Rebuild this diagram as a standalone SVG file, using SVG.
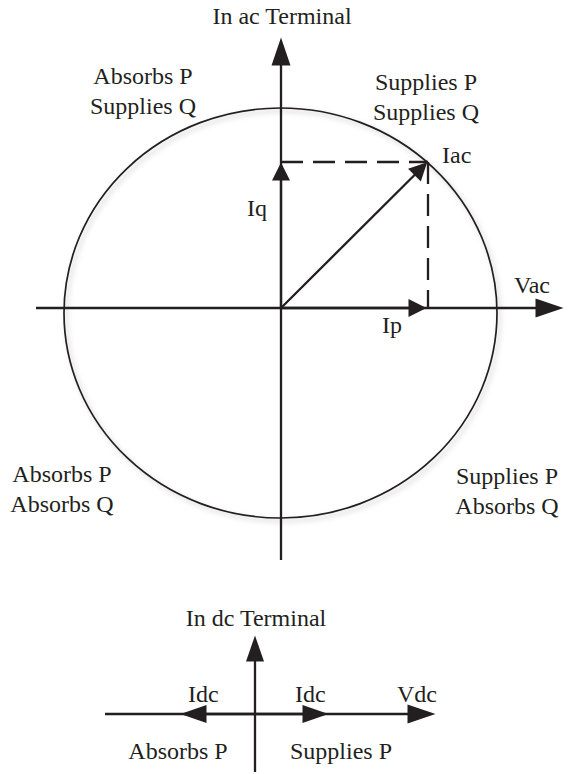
<svg xmlns="http://www.w3.org/2000/svg" width="568" height="774" viewBox="0 0 568 774">
<style>
  text { font-family: "Liberation Serif", "Times New Roman", serif; font-size: 24px; fill: #231f20; }
  .m { text-anchor: middle; }
  .ax { stroke: #231f20; stroke-width: 2.3; fill: none; }
  .dash { stroke: #231f20; stroke-width: 2.3; fill: none; stroke-dasharray: 22 10; }
  .ell { stroke: #231f20; stroke-width: 1.7; fill: none; }
</style>
<defs>
  <marker id="big" markerUnits="userSpaceOnUse" markerWidth="30" markerHeight="20" refX="0.5" refY="9.5" orient="auto" overflow="visible">
    <path d="M0,0 L28,9.5 L0,19 z" fill="#231f20"/>
  </marker>
  <marker id="med" markerUnits="userSpaceOnUse" markerWidth="28" markerHeight="20" refX="0.5" refY="9" orient="auto" overflow="visible">
    <path d="M0,0 L26,9 L0,18 z" fill="#231f20"/>
  </marker>
  <marker id="small" markerUnits="userSpaceOnUse" markerWidth="20" markerHeight="20" refX="0.5" refY="9" orient="auto" overflow="visible">
    <path d="M0,0 L18,9 L0,18 z" fill="#231f20"/>
  </marker>
  <filter id="shadow" x="-10%" y="-10%" width="120%" height="120%">
    <feGaussianBlur stdDeviation="2.5"/>
  </filter>
</defs>

<g id="ac-circle">
  <ellipse cx="283" cy="316" rx="216.5" ry="205" fill="none" stroke="#c8c8c8" stroke-width="3" filter="url(#shadow)" opacity="0.6"/>
  <ellipse class="ell" cx="280.5" cy="313" rx="216.5" ry="205"/>
</g>

<g id="connectors">
  <line class="ax" x1="281" y1="560" x2="281" y2="65" marker-end="url(#big)"/>
  <line class="ax" x1="36" y1="308" x2="536" y2="308" marker-end="url(#big)"/>
  <line class="ax" x1="281" y1="308" x2="281" y2="180" marker-end="url(#small)"/>
  <line class="ax" x1="281" y1="308" x2="409" y2="308" marker-end="url(#small)"/>
  <line class="ax" x1="281" y1="308" x2="414.8" y2="174.7" marker-end="url(#small)"/>
  <path class="dash" d="M281,162 H428"/>
  <path class="dash" d="M428,162 V308"/>

  <line class="ax" x1="105" y1="714" x2="408" y2="714" marker-end="url(#big)"/>
  <line class="ax" x1="255" y1="772" x2="255" y2="661" marker-end="url(#med)"/>
  <line class="ax" x1="255" y1="714" x2="206" y2="714" marker-end="url(#med)"/>
  <line class="ax" x1="255" y1="714" x2="303" y2="714" marker-end="url(#med)"/>
</g>

<g id="ac-labels">
  <text class="m" x="282" y="24">In ac Terminal</text>
  <g id="q2"><text class="m" x="143" y="84">Absorbs P</text><text class="m" x="143" y="114">Supplies Q</text></g>
  <g id="q1"><text class="m" x="426" y="90">Supplies P</text><text class="m" x="426" y="120">Supplies Q</text></g>
  <g id="q3"><text class="m" x="62" y="482">Absorbs P</text><text class="m" x="62" y="512">Absorbs Q</text></g>
  <g id="q4"><text class="m" x="507" y="484">Supplies P</text><text class="m" x="507" y="514">Absorbs Q</text></g>
  <text id="iac" x="442" y="163">Iac</text>
  <text id="iq" x="247" y="216">Iq</text>
  <text id="ip" x="382" y="333">Ip</text>
  <text id="vac" x="514" y="293">Vac</text>
</g>

<g id="dc-labels">
  <text class="m" x="256" y="626">In dc Terminal</text>
  <text x="188" y="702">Idc</text>
  <text x="295" y="702">Idc</text>
  <text x="397" y="702">Vdc</text>
  <text class="m" x="178" y="759">Absorbs P</text>
  <text class="m" x="341" y="759">Supplies P</text>
</g>
</svg>
